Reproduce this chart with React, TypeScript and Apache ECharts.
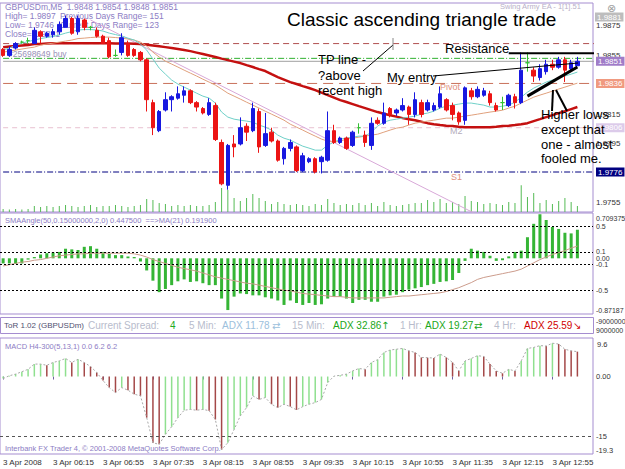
import React, { useEffect, useRef } from 'react';
import * as echarts from 'echarts';

const tickLabels = ['3 Apr 2008', '3 Apr 06:15', '3 Apr 06:55', '3 Apr 07:35', '3 Apr 08:15', '3 Apr 08:55', '3 Apr 09:35', '3 Apr 10:15', '3 Apr 10:55', '3 Apr 11:35', '3 Apr 12:15', '3 Apr 12:55'];
const BAR_COUNT_WITH_SHIFT = 95;

const openP = [1.9859,1.9855,1.9860,1.9864,1.9865,1.9863,1.9871,1.9868,1.9869,1.9871,
1.9874,1.9880,1.9871,1.9879,1.9874,1.9872,1.9868,1.9865,1.9855,1.9857,
1.9863,1.9859,1.9857,1.9852,1.9823,1.9804,1.9818,1.9825,1.9826,1.9828,
1.9831,1.9823,1.9819,1.9815,1.9821,1.9796,1.9767,1.9795,1.9795,1.9807,
1.9804,1.9817,1.9794,1.9803,1.9797,1.9785,1.9792,1.9793,1.9777,1.9783,
1.9785,1.9783,1.9784,1.9804,1.9796,1.9799,1.9794,1.9806,1.9801,1.9794,
1.9811,1.9809,1.9819,1.9816,1.9818,1.9820,1.9815,1.9823,1.9818,1.9818,
1.9820,1.9825,1.9821,1.9816,1.9811,1.9831,1.9827,1.9828,1.9829,1.9821,
1.9823,1.9821,1.9827,1.9823,1.9850,1.9845,1.9840,1.9844,1.9849,1.9847,
1.9852,1.9846,1.9848];
const highP = [1.9860,1.9861,1.9864,1.9865,1.9867,1.9874,1.9872,1.9871,1.9873,1.9878,
1.9882,1.9881,1.9882,1.9880,1.9875,1.9874,1.9869,1.9867,1.9859,1.9870,
1.9865,1.9860,1.9858,1.9853,1.9825,1.9818,1.9830,1.9828,1.9834,1.9834,
1.9832,1.9824,1.9820,1.9826,1.9823,1.9798,1.9795,1.9801,1.9813,1.9809,
1.9823,1.9819,1.9816,1.9806,1.9798,1.9793,1.9798,1.9794,1.9789,1.9786,
1.9786,1.9787,1.9817,1.9808,1.9800,1.9800,1.9804,1.9809,1.9804,1.9813,
1.9813,1.9823,1.9820,1.9819,1.9826,1.9821,1.9830,1.9825,1.9825,1.9823,
1.9834,1.9826,1.9823,1.9817,1.9834,1.9833,1.9834,1.9833,1.9831,1.9823,
1.9827,1.9829,1.9829,1.9857,1.9857,1.9847,1.9849,1.9852,1.9852,1.9854,
1.9854,1.9852,1.9854];
const lowP = [1.9854,1.9854,1.9859,1.9863,1.9863,1.9863,1.9863,1.9867,1.9867,1.9869,
1.9874,1.9869,1.9869,1.9872,1.9872,1.9867,1.9863,1.9853,1.9854,1.9855,
1.9854,1.9854,1.9851,1.9817,1.9801,1.9803,1.9817,1.9817,1.9825,1.9823,
1.9822,1.9817,1.9815,1.9814,1.9797,1.9767,1.9764,1.9786,1.9794,1.9797,
1.9803,1.9789,1.9793,1.9796,1.9783,1.9781,1.9790,1.9776,1.9776,1.9782,
1.9775,1.9775,1.9783,1.9795,1.9795,1.9791,1.9793,1.9802,1.9793,1.9791,
1.9808,1.9808,1.9813,1.9814,1.9817,1.9808,1.9813,1.9813,1.9817,1.9817,
1.9819,1.9817,1.9811,1.9808,1.9808,1.9825,1.9826,1.9827,1.9821,1.9817,
1.9818,1.9820,1.9819,1.9822,1.9844,1.9837,1.9838,1.9842,1.9845,1.9846,
1.9837,1.9845,1.9848];
const closeP = [1.9855,1.9859,1.9863,1.9864,1.9865,1.9872,1.9868,1.9870,1.9871,1.9876,
1.9880,1.9870,1.9880,1.9874,1.9874,1.9868,1.9863,1.9854,1.9855,1.9867,
1.9855,1.9855,1.9852,1.9825,1.9806,1.9817,1.9825,1.9827,1.9829,1.9831,
1.9823,1.9820,1.9816,1.9823,1.9798,1.9768,1.9794,1.9793,1.9806,1.9803,
1.9819,1.9793,1.9802,1.9797,1.9784,1.9792,1.9796,1.9777,1.9787,1.9785,
1.9776,1.9786,1.9804,1.9796,1.9799,1.9792,1.9803,1.9806,1.9796,1.9809,
1.9809,1.9816,1.9815,1.9818,1.9821,1.9815,1.9825,1.9815,1.9823,1.9821,
1.9829,1.9818,1.9815,1.9810,1.9833,1.9827,1.9832,1.9831,1.9823,1.9818,
1.9823,1.9828,1.9823,1.9845,1.9850,1.9841,1.9846,1.9849,1.9847,1.9852,
1.9845,1.9850,1.9851];
const volume = [15,12,15,12,15,30,25,30,25,30,35,30,25,30,35,25,30,30,35,30,25,30,35,
65,60,45,40,30,35,30,35,30,30,35,50,120,110,70,55,70,90,70,55,40,50,40,35,40,35,30,40,35,65,
45,35,40,35,45,35,45,30,50,35,30,35,40,45,45,60,50,65,45,50,40,80,55,50,40,45,40,35,50,45,
135,75,95,45,60,40,55,70,50,30];
const maSlow = [1.98606,1.98610,1.98613,1.98617,1.98620,1.98627,1.98628,1.98630,1.98632,1.98633,
1.98633,1.98633,1.98633,1.98633,1.98633,1.98633,1.98633,1.98632,1.98631,1.98631,
1.98630,1.98629,1.98627,1.98622,1.98617,1.98612,1.98606,1.98600,1.98593,1.98586,
1.98579,1.98569,1.98559,1.98549,1.98539,1.98528,1.98518,1.98508,1.98498,1.98484,
1.98471,1.98457,1.98444,1.98423,1.98403,1.98386,1.98369,1.98356,1.98342,1.98329,
1.98315,1.98298,1.98281,1.98264,1.98247,1.98234,1.98220,1.98206,1.98193,1.98179,
1.98166,1.98155,1.98145,1.98135,1.98125,1.98118,1.98111,1.98101,1.98091,1.98084,
1.98078,1.98074,1.98071,1.98067,1.98064,1.98064,1.98064,1.98064,1.98064,1.98067,
1.98071,1.98074,1.98078,1.98084,1.98091,1.98105,1.98118,1.98132,1.98145,1.98159,
1.98172,1.98186,1.98200];
const maFast = [1.98586,1.98600,1.98620,1.98633,1.98644,1.98654,1.98664,1.98671,1.98678,1.98688,
1.98701,1.98711,1.98722,1.98725,1.98725,1.98722,1.98715,1.98701,1.98691,1.98681,
1.98667,1.98654,1.98627,1.98586,1.98525,1.98464,1.98423,1.98383,1.98356,1.98335,
1.98315,1.98294,1.98274,1.98261,1.98227,1.98166,1.98132,1.98118,1.98111,1.98105,
1.98098,1.98078,1.98064,1.98044,1.98010,1.97989,1.97976,1.97955,1.97935,1.97922,
1.97908,1.97908,1.97942,1.97962,1.97983,1.97989,1.97996,1.98003,1.98003,1.98030,
1.98071,1.98098,1.98111,1.98118,1.98125,1.98132,1.98139,1.98152,1.98159,1.98172,
1.98193,1.98206,1.98213,1.98220,1.98227,1.98227,1.98220,1.98213,1.98200,1.98200,
1.98206,1.98213,1.98233,1.98267,1.98301,1.98328,1.98349,1.98369,1.98383,1.98396,
1.98410,1.98423,1.98437];
const maMid = [1.98572,1.98579,1.98586,1.98593,1.98600,1.98606,1.98620,1.98627,1.98633,1.98640,
1.98647,1.98654,1.98664,1.98667,1.98671,1.98674,1.98674,1.98674,1.98671,1.98667,
1.98661,1.98654,1.98640,1.98613,1.98572,1.98539,1.98511,1.98491,1.98471,1.98450,
1.98430,1.98410,1.98389,1.98369,1.98349,1.98322,1.98294,1.98274,1.98254,1.98233,
1.98213,1.98193,1.98172,1.98152,1.98132,1.98111,1.98084,1.98064,1.98044,1.98023,
1.98003,1.97983,1.97969,1.97962,1.97969,1.97983,1.97989,1.97996,1.98003,1.98010,
1.98016,1.98030,1.98044,1.98057,1.98064,1.98078,1.98091,1.98098,1.98105,1.98111,
1.98118,1.98125,1.98125,1.98132,1.98139,1.98145,1.98152,1.98159,1.98166,1.98172,
1.98179,1.98193,1.98206,1.98227,1.98247,1.98267,1.98281,1.98294,1.98308,1.98322,
1.98335,1.98349,1.98362];
const trendLine = [[14, 1.9879], [76, 1.9747]];
const resistanceLine = [[81, 1.98565], [94.5, 1.98565]];
const supportLine = [[84, 1.98274], [92, 1.98471]];
const levelValues = [1.9881, 1.9863, 1.9853, 1.9851, 1.9836, 1.9806, 1.9776];
const priceTicks = [1.9875, 1.9855, 1.9815, 1.9795, 1.9755];

const smaAngle = [-0.08,-0.08,-0.09,-0.08,-0.02,0.02,0.06,0.08,0.09,0.1,
0.15,0.14,0.13,0.18,0.19,0.15,0.1,0.07,0.05,0.05,
0.03,0.02,-0.05,-0.19,-0.35,-0.53,-0.48,-0.42,-0.36,-0.33,
-0.37,-0.36,-0.39,-0.42,-0.42,-0.63,-0.81,-0.6,-0.55,-0.56,
-0.58,-0.58,-0.61,-0.63,-0.66,-0.73,-0.66,-0.7,-0.73,-0.7,
-0.73,-0.72,-0.63,-0.6,-0.6,-0.63,-0.7,-0.65,-0.65,-0.68,
-0.68,-0.6,-0.58,-0.57,-0.53,-0.49,-0.47,-0.45,-0.42,-0.4,
-0.37,-0.36,-0.34,-0.23,-0.04,0.15,0.12,0.1,0.04,-0.04,
-0.03,0.03,0.1,0.12,0.33,0.54,0.69,0.6,0.49,0.46,
0.4,0.39,0.4475];
const smaAngleMA = [-0.12,-0.1,-0.08,-0.06,-0.05,-0.03,-0.02,0,0.02,0.04,
0.05,0.06,0.07,0.07,0.08,0.08,0.08,0.08,0.08,0.08,
0.08,0.07,0.05,0.02,-0.02,-0.05,-0.08,-0.11,-0.14,-0.16,
-0.18,-0.2,-0.23,-0.26,-0.29,-0.31,-0.33,-0.35,-0.37,-0.39,
-0.4,-0.42,-0.44,-0.46,-0.48,-0.5,-0.51,-0.53,-0.55,-0.56,
-0.57,-0.58,-0.59,-0.6,-0.6,-0.61,-0.62,-0.62,-0.62,-0.62,
-0.62,-0.62,-0.61,-0.6,-0.59,-0.59,-0.58,-0.57,-0.56,-0.55,
-0.54,-0.52,-0.49,-0.46,-0.42,-0.38,-0.33,-0.3,-0.28,-0.26,
-0.24,-0.22,-0.2,-0.17,-0.12,-0.07,-0.02,0.02,0.06,0.09,
0.12,0.16,0.1919];
const smaLevels = [0.5, 0.1, -0.1, -0.5];
const SMA_MAX = 0.709375;
const SMA_MIN = -0.87187;
const smaTicks = [0.5, 0.1, 0, -0.1, -0.5];

const macd = [-0.5,0.2,0.6,1.2,1.8,3.1,3.1,2.8,3.5,3.9,
4.5,3.5,4.3,3.5,2.5,1.0,-1.0,-2.75,-4.0,-2.75,
-3.4,-4.4,-4.8,-10.25,-16.5,-16.9,-14.4,-12.5,-10.25,-8.4,
-8.2,-8.4,-8.2,-8.5,-10.7,-18.2,-16.5,-13.2,-9.8,-7.75,
-4.8,-5.7,-5.25,-6.9,-7.75,-6.9,-7.5,-8.3,-7.5,-6.9,
-6.5,-5.7,-1.5,0.1,0.3,0.6,1.4,2.0,1.8,3.5,
4.2,6.0,6.6,6.8,7.0,6.4,6.0,4.75,4.7,4.6,
5.6,4.75,3.5,1.4,3.9,4.5,5.2,5.0,3.1,1.4,
0.8,1.8,1.4,3.9,7.0,7.25,7.7,7.6,8.3,8.1,
6.8,6.4,6.2];
const macdLevels = [-15];
const MACD_MAX = 9.6;
const MACD_MIN = -19.3;
const macdTicks = [0, -15];

const FONT = 'Liberation Sans, Arial, sans-serif';
const FRAME = '#a58dd0';
const HEAD = '#8c7cc4';

function buildCategories() {
  const start = 5 * 60 + 35;
  return Array.from({ length: BAR_COUNT_WITH_SHIFT }, (_, i) => {
    const m = start + 5 * i;
    return `3 Apr ${String(Math.floor(m / 60)).padStart(2, '0')}:${String(m % 60).padStart(2, '0')}`;
  });
}

const t = (text: string, x: number, y: number, size: number, fill: string, z = 50, family = FONT) => ({
  type: 'text', x, y, z, silent: true,
  style: { text, fontSize: size, fontFamily: family, fill, verticalAlign: 'middle', align: 'left' },
});
const ln = (x1: number, y1: number, x2: number, y2: number, w: number, stroke = '#000') => ({
  type: 'line', z: 50, silent: true, shape: { x1, y1, x2, y2 }, style: { stroke, lineWidth: w },
});

export default function App() {
  const ref = useRef<HTMLDivElement>(null);
  useEffect(() => {
    if (!ref.current) return;
    const chart = echarts.init(ref.current, null, { renderer: 'svg' });
    const categories = buildCategories();
    const body = openP.map((o, i) => (o === closeP[i] ? '-' : [o, closeP[i], lowP[i], highP[i]]));
    const doji = openP.map((o, i) => (o === closeP[i] ? [o, closeP[i], lowP[i], highP[i]] : '-'));

    const levelStyles = [
      { lineStyle: { color: 'rgba(0,0,0,0)', width: 0 }, bg: '#bdbdbd' },
      { lineStyle: { color: '#b05050', type: [6, 4], width: 1 }, bg: '' },
      { lineStyle: { color: '#2fb02f', type: [6, 2, 1, 2], width: 1 }, bg: '' },
      { lineStyle: { color: '#a0a0a0', type: 'solid', width: 1 }, bg: '#a07cc8' },
      { lineStyle: { color: '#c8705a', type: [10, 6], width: 1 }, bg: '#f09a80' },
      { lineStyle: { color: '#e8c0d0', type: [5, 4], width: 1 }, bg: '#dccbea' },
      { lineStyle: { color: '#000080', type: [6, 2, 1, 2], width: 1 }, bg: '#000080' },
    ];
    const levelSeries = levelValues.map((v, i) => ({
      type: 'line', xAxisIndex: 0, yAxisIndex: 0, symbol: 'none', silent: true, z: 2,
      data: [[-0.5, v], [94.5, v]],
      lineStyle: levelStyles[i].lineStyle,
      endLabel: levelStyles[i].bg
        ? {
            show: true, distance: 2, formatter: v.toFixed(4), color: '#fff',
            backgroundColor: levelStyles[i].bg, padding: [1, 2, 0, 2], fontSize: 8, fontFamily: FONT,
          }
        : { show: false },
    }));

    const yLabel = (extra: any) => ({ margin: 3, fontSize: 8, color: '#333', fontFamily: FONT, ...extra });

    const option: any = {
      animation: false,
      backgroundColor: '#ffffff',
      grid: [
        { left: 0, top: 3, width: 593, height: 209, show: true, borderColor: FRAME, borderWidth: 1 },
        { left: 0, top: 213, width: 593, height: 101, show: true, borderColor: FRAME, borderWidth: 1 },
        { left: 0, top: 338, width: 593, height: 116, show: true, borderColor: FRAME, borderWidth: 1 },
      ],
      xAxis: [
        { type: 'category', gridIndex: 0, data: categories, show: false },
        { type: 'category', gridIndex: 1, data: categories, show: false },
        {
          type: 'category', gridIndex: 2, data: categories,
          axisLine: { show: false },
          axisTick: { show: true, interval: 7, alignWithLabel: true, length: 3, lineStyle: { color: '#7060a0' } },
          axisLabel: {
            interval: 7, align: 'left', margin: 4, fontSize: 8, color: '#303030', fontFamily: FONT,
            formatter: (_v: string, idx: number) => (idx % 8 === 0 ? tickLabels[idx / 8] || '' : ''),
          },
        },
      ],
      yAxis: [
        {
          type: 'value', gridIndex: 0, position: 'right', min: 1.97489, max: 1.98905,
          splitLine: { show: false }, axisLine: { show: false }, axisTick: { show: false },
          axisLabel: yLabel({ customValues: priceTicks, formatter: (v: number) => v.toFixed(4) }),
        },
        { type: 'value', gridIndex: 0, min: 0, max: 1050, show: false },
        {
          type: 'value', gridIndex: 1, position: 'right', min: SMA_MIN, max: SMA_MAX,
          splitLine: { show: false }, axisLine: { show: false }, axisTick: { show: false },
          axisLabel: yLabel({ customValues: smaTicks, fontSize: 7, formatter: (v: number) => (v === 0 ? '0.00' : String(v)) }),
        },
        {
          type: 'value', gridIndex: 2, position: 'right', min: MACD_MIN, max: MACD_MAX,
          splitLine: { show: false }, axisLine: { show: false }, axisTick: { show: false },
          axisLabel: yLabel({ customValues: macdTicks, fontSize: 7.5, formatter: (v: number) => (v === 0 ? '0.00' : String(v)) }),
        },
      ],
      series: [
        {
          type: 'bar', name: 'volume', xAxisIndex: 0, yAxisIndex: 1, data: volume, barWidth: 1,
          itemStyle: { color: '#55bb55' }, silent: true, z: 1,
        },
        ...levelSeries,
        {
          type: 'line', xAxisIndex: 0, yAxisIndex: 0, data: trendLine, symbol: 'none', silent: true,
          lineStyle: { color: '#d8a8d8', width: 1 }, z: 2,
        },
        {
          type: 'line', xAxisIndex: 0, yAxisIndex: 0, data: maSlow, symbol: 'none', silent: true,
          lineStyle: { color: '#c41010', width: 2.5 }, z: 2,
        },
        {
          type: 'line', xAxisIndex: 0, yAxisIndex: 0, data: maMid, symbol: 'none', silent: true,
          lineStyle: { color: '#e0a07c', width: 1 }, z: 2,
        },
        {
          type: 'line', xAxisIndex: 0, yAxisIndex: 0, data: maFast, symbol: 'none', silent: true,
          lineStyle: { color: '#6fd0c8', width: 1 }, z: 2,
        },
        {
          type: 'candlestick', name: 'price', xAxisIndex: 0, yAxisIndex: 0, data: body, barWidth: 4, silent: true, z: 3,
          itemStyle: { color: '#1818e0', color0: '#ec1414', borderColor: '#1818e0', borderColor0: '#ec1414', borderWidth: 1 },
        },
        {
          type: 'candlestick', name: 'doji', xAxisIndex: 0, yAxisIndex: 0, data: doji, barWidth: 4, silent: true, z: 3,
          itemStyle: { color: '#33c033', color0: '#33c033', borderColor: '#33c033', borderColor0: '#33c033', borderColorDoji: '#33c033', borderWidth: 1 },
        },
        {
          type: 'line', xAxisIndex: 0, yAxisIndex: 0, data: resistanceLine, symbol: 'none', silent: true,
          lineStyle: { color: '#000', width: 2 }, z: 4,
        },
        {
          type: 'line', xAxisIndex: 0, yAxisIndex: 0, data: supportLine, symbol: 'none', silent: true,
          lineStyle: { color: '#000', width: 3 }, z: 4,
        },
        {
          type: 'bar', xAxisIndex: 1, yAxisIndex: 2, data: smaAngle, barWidth: 3, silent: true,
          itemStyle: { color: '#35b535' },
          markLine: {
            silent: true, symbol: ['none', 'none'], label: { show: false },
            lineStyle: { color: '#000', type: [2, 2], width: 1 },
            data: smaLevels.map((v) => ({ yAxis: v })),
          },
        },
        {
          type: 'line', xAxisIndex: 1, yAxisIndex: 2, data: smaAngleMA, symbol: 'none', silent: true,
          lineStyle: { color: '#cc9c8c', width: 1 }, z: 3,
        },
        {
          type: 'bar', xAxisIndex: 2, yAxisIndex: 3, data: macd, barWidth: 1.5, silent: true,
          itemStyle: {
            color: (p: any) => (p.dataIndex > 0 && macd[p.dataIndex] < macd[p.dataIndex - 1] ? '#a44848' : '#8fe08f'),
          },
          markLine: {
            silent: true, symbol: ['none', 'none'], label: { show: false },
            lineStyle: { color: '#555', type: [3, 3], width: 1 },
            data: macdLevels.map((v) => ({ yAxis: v })),
          },
        },
        {
          type: 'line', xAxisIndex: 2, yAxisIndex: 3, data: macd, symbol: 'none', silent: true,
          lineStyle: { color: '#a8a8a8', width: 1, type: [2, 2] }, z: 3,
        },
      ],
      graphic: [
        { type: 'rect', z: 1, silent: true, shape: { x: 0.5, y: 317.5, width: 593, height: 16 }, style: { fill: 'none', stroke: FRAME, lineWidth: 1 } },
        t('GBPUSDm,M5  1.9848 1.9854 1.9848 1.9851', 5, 7, 8.5, HEAD, 1),
        t('High= 1.9897', 5, 16, 8.5, HEAD, 1),
        t('Previous Days Range= 151', 60, 16, 8.5, HEAD, 1),
        t('Low= 1.9746', 5, 25, 8.5, HEAD, 1),
        t('Current Days Range= 123', 60, 25, 8.5, HEAD, 1),
        t('Close= 1.9851', 5, 34, 8.5, HEAD, 1),
        t('#25698649 buy', 8, 54, 8.5, '#9a90b8', 1),
        t('Swing Army EA - 1[1].51', 500, 6, 7.5, '#b8b0c8', 1),
        t('\u2297', 607, 8, 11, '#a0a0a0', 1, 'DejaVu Sans'),
        t('Pivot', 440, 87, 9, '#e09080', 1),
        t('M2', 450, 131, 9, '#b4acbc', 1),
        t('S1', 451, 177, 9, '#e09080', 1),
        t('Classic ascending triangle trade', 287, 19, 19, '#000'),
        t('Resistance', 445, 48, 13, '#000'),
        t('TP line -', 318, 59, 13, '#000'),
        t('?above', 318, 75, 13, '#000'),
        t('recent high', 318, 90, 13, '#000'),
        t('My entry', 387, 77, 13, '#000'),
        t('Higher lows', 541, 114, 13, '#000'),
        t('except that', 541, 129, 13, '#000'),
        t('one - almost', 541, 144, 13, '#000'),
        t('fooled me.', 541, 158, 13, '#000'),
        ln(363, 71, 393, 45, 1),
        ln(393, 38, 393, 50, 1, '#888'),
        ln(433, 76, 578, 63, 1),
        ln(553, 90, 552, 111, 2),
        ln(556, 90, 567, 111, 2),
        t('SMAAngle(50,0.15000000,2,0) 0.447500  ==>MA(21) 0.191900', 5, 220, 7.5, HEAD),
        t(String(SMA_MAX), 596, 218, 7, '#333'),
        t(String(SMA_MIN), 596, 310, 7, '#333'),
        t('ToR 1.02 (GBPUSDm)', 4, 325, 8, '#505070'),
        t('Current Spread:', 88, 325, 10, '#b8bccc'),
        t('4', 170, 325, 10, '#22aa22'),
        t('5 Min:', 189, 325, 10, '#b8bccc'),
        t('ADX 11.78', 222, 325, 10, '#9cc0dc'),
        t('\u21C4', 272, 325, 10, '#9cc0dc', 50, 'DejaVu Sans'),
        t('15 Min:', 292, 325, 10, '#b8bccc'),
        t('ADX 32.86', 333, 325, 10, '#1aa61a'),
        t('\u2191', 381, 325, 10, '#1aa61a', 50, 'DejaVu Sans'),
        t('1 Hr:', 400, 325, 10, '#b8bccc'),
        t('ADX 19.27', 425, 325, 10, '#1aa61a'),
        t('\u21C4', 474, 325, 10, '#1aa61a', 50, 'DejaVu Sans'),
        t('4 Hr:', 494, 325, 10, '#b8bccc'),
        t('ADX 25.59', 524, 325, 10, '#d00000'),
        t('\u2198', 573, 325, 10, '#d00000', 50, 'DejaVu Sans'),
        t('-9000000', 596, 321, 7, '#333'),
        t('9000000', 596, 330, 7, '#333'),
        t(String(MACD_MAX), 597, 344, 7.5, '#333'),
        t(String(MACD_MIN), 596, 450, 7.5, '#333'),
        t('MACD H4-300(5,13,1) 0.0 6.2 6.2', 5, 346, 7.5, HEAD),
        t('Interbank FX Trader 4, \u00A9 2001-2008 MetaQuotes Software Corp.', 5, 448, 7.5, HEAD),
      ],
    };
    chart.setOption(option);
    return () => chart.dispose();
  }, []);
  return <div ref={ref} style={{ position: 'absolute', left: 0, top: 0, width: 625, height: 469 }} />;
}
